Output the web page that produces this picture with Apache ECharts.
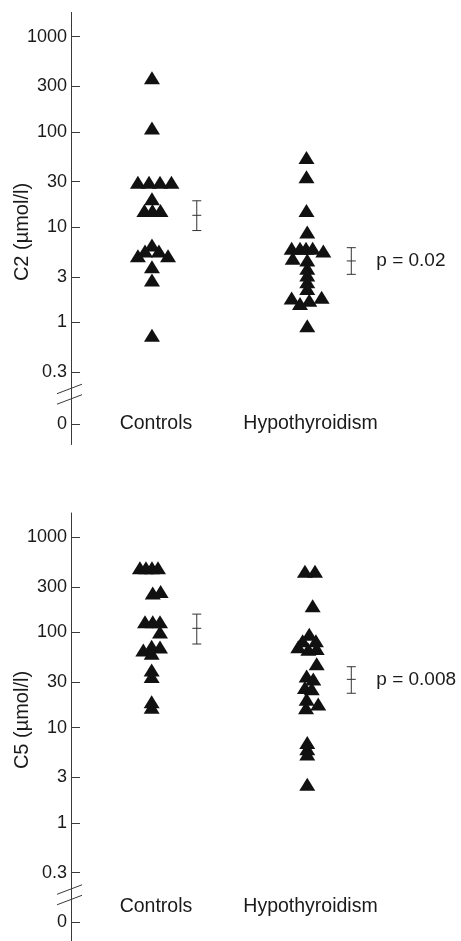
<!DOCTYPE html>
<html><head><meta charset="utf-8">
<script src="https://cdn.jsdelivr.net/npm/echarts@6/dist/echarts.min.js"></script>
<style>html,body{margin:0;padding:0;background:#fff}#c{width:461px;height:941px}</style>
</head><body><div id="c"></div>
<script>
// ---------- data ----------
const categories = ['Controls', 'Hypothyroidism'];
const tickValues = [0.3, 1, 3, 10, 30, 100, 300, 1000];
const zeroTick = [0];
const yNames = ['C2 (µmol/l)', 'C5 (µmol/l)'];
const pTexts = ['p = 0.02', 'p = 0.008'];

// C2 panel
const c2Controls = [370, 110, 29.6, 29.6, 29.6, 29.6, 19.9, 14.9, 14.9, 14.9, 6.5, 5.6, 5.6, 5.0, 5.0, 3.84, 2.78, 0.73];
const c2ControlsJitter = [0, 0, -0.091, -0.019, 0.052, 0.126, 0, -0.049, 0.003, 0.055, 0, -0.045, 0.045, -0.091, 0.104, 0, 0, 0];
const c2Hypo = [54, 33.8, 14.9, 8.9, 6.0, 6.0, 6.0, 6.0, 5.6, 4.7, 4.5, 3.69, 3.14, 2.67, 2.27, 1.80, 1.58, 1.70, 1.83, 0.92];
const c2HypoJitter = [0, 0, 0, 0.005, -0.096, -0.042, -0.003, 0.04, 0.109, -0.089, 0.005, 0.005, 0.005, 0.005, 0.005, -0.096, -0.042, 0.018, 0.098, 0.005];
const c2ErrLow = [9.2, 3.19];
const c2ErrMean = [13.3, 4.41];
const c2ErrHigh = [18.9, 6.08];

// C5 panel
const c5Controls = [480, 480, 480, 480, 260, 270, 130, 130, 130, 101, 65.5, 71.6, 70.4, 60.4, 40.4, 34.4, 18.7, 16.4];
const c5ControlsJitter = [-0.078, -0.039, 0, 0.039, 0.005, 0.056, -0.045, 0.005, 0.052, 0.052, -0.056, -0.002, 0.052, -0.002, -0.002, -0.002, -0.002, -0.002];
const c5Hypo = [440, 440, 191, 96, 82, 82, 71, 66.8, 68, 47, 34.9, 32.4, 26.4, 25.6, 19.9, 17.7, 16.2, 7.0, 6.0, 5.3, 2.55];
const c5HypoJitter = [-0.01, 0.055, 0.04, 0.018, -0.025, 0.061, -0.053, 0.012, 0.066, 0.066, 0.001, 0.044, -0.01, 0.034, 0.001, 0.076, -0.003, 0.005, 0.005, 0.005, 0.005];
const c5ErrLow = [75.7, 23];
const c5ErrMean = [110.7, 32.2];
const c5ErrHigh = [156, 43.7];

// ---------- layout ----------
const FONT = '"Liberation Sans", Arial, sans-serif';
const AX = '#3a3a3a';
const TXT = '#1a1a1a';
const xMin = 0.476, xMax = 3.0;
const errShift = 0.29;
const panels = [
  { logTop: 12.4, logH: 380.8, zeroTop: 393.2, zeroH: 51.3, labelOffset: -20.5, nameY: 232 },
  { logTop: 513, logH: 380.8, zeroTop: 893.8, zeroH: 53.7, labelOffset: -34.2, nameY: 720 }
];

function pts(vals, jit, cat) {
  return vals.map((v, i) => [cat + jit[i], v]);
}
function errData(lo, mid, hi) {
  return lo.map((l, i) => [i + 1 + errShift, l, mid[i], hi[i]]);
}
function makeErrRender(pText) {
  return function (params, api) {
    const x = api.value(0);
    const pLo = api.coord([x, api.value(1)]);
    const pMid = api.coord([x, api.value(2)]);
    const pHi = api.coord([x, api.value(3)]);
    const hw = 4.5;
    const st = { stroke: '#333', lineWidth: 1 };
    const ch = [
      { type: 'line', shape: { x1: pLo[0], y1: pLo[1], x2: pHi[0], y2: pHi[1] }, style: st },
      { type: 'line', shape: { x1: pLo[0] - hw, y1: pLo[1], x2: pLo[0] + hw, y2: pLo[1] }, style: st },
      { type: 'line', shape: { x1: pMid[0] - hw, y1: pMid[1], x2: pMid[0] + hw, y2: pMid[1] }, style: st },
      { type: 'line', shape: { x1: pHi[0] - hw, y1: pHi[1], x2: pHi[0] + hw, y2: pHi[1] }, style: st }
    ];
    if (params.dataIndex === 1) {
      ch.push({
        type: 'text', x: pMid[0] + 25, y: pMid[1],
        style: { text: pText, font: '19px ' + FONT, fill: TXT, align: 'left', verticalAlign: 'middle' }
      });
    }
    return { type: 'group', children: ch };
  };
}

const grid = [], xAxis = [], yAxis = [], series = [], graphic = [];
const panelData = [
  { ctrl: pts(c2Controls, c2ControlsJitter, 1), hypo: pts(c2Hypo, c2HypoJitter, 2), err: errData(c2ErrLow, c2ErrMean, c2ErrHigh) },
  { ctrl: pts(c5Controls, c5ControlsJitter, 1), hypo: pts(c5Hypo, c5HypoJitter, 2), err: errData(c5ErrLow, c5ErrMean, c5ErrHigh) }
];

panels.forEach((p, k) => {
  const gA = grid.length, gB = gA + 1;
  grid.push({ left: 71, width: 390, top: p.logTop, height: p.logH });
  grid.push({ left: 71, width: 390, top: p.zeroTop, height: p.zeroH });
  xAxis.push({ gridIndex: gA, type: 'value', min: xMin, max: xMax, show: false });
  xAxis.push({
    gridIndex: gB, type: 'value', min: xMin, max: xMax, position: 'bottom', offset: p.labelOffset,
    axisLine: { show: false }, axisTick: { show: false }, splitLine: { show: false },
    axisLabel: {
      customValues: [1, 2], formatter: v => categories[Math.round(v) - 1],
      fontSize: 19.5, fontFamily: FONT, color: TXT, margin: 0, verticalAlign: 'middle', padding: [0, 0, 0, 8]
    }
  });
  yAxis.push({
    gridIndex: gA, type: 'log', logBase: 10, min: 0.18, max: 1800,
    axisLine: { show: true, lineStyle: { color: AX, width: 1 } },
    axisTick: { show: true, inside: true, length: 9, customValues: tickValues, lineStyle: { color: AX, width: 1 } },
    minorTick: { show: false }, splitLine: { show: false },
    axisLabel: { customValues: tickValues, formatter: v => String(+(+v).toPrecision(6)), margin: 4, fontSize: 18, fontFamily: FONT, color: TXT }
  });
  yAxis.push({
    gridIndex: gB, type: 'value', min: -1, max: 1.5,
    axisLine: { show: true, onZero: false, lineStyle: { color: AX, width: 1 } },
    axisTick: { show: true, inside: true, length: 9, customValues: zeroTick, lineStyle: { color: AX, width: 1 } },
    splitLine: { show: false },
    axisLabel: { customValues: zeroTick, margin: 4, fontSize: 18, fontFamily: FONT, color: TXT }
  });
  const d = panelData[k];
  [d.ctrl, d.hypo].forEach(data => series.push({
    type: 'scatter', xAxisIndex: gA, yAxisIndex: gA, data,
    symbol: 'triangle', symbolSize: [16, 13], itemStyle: { color: '#111', opacity: 1 },
    emphasis: { disabled: true }, silent: true
  }));
  series.push({
    type: 'custom', xAxisIndex: gA, yAxisIndex: gA, data: d.err, renderItem: makeErrRender(pTexts[k]),
    encode: { x: 0, y: [1, 2, 3] }, silent: true
  });
  const b = p.zeroTop;
  const ls = { stroke: AX, lineWidth: 1 };
  graphic.push({ type: 'line', shape: { x1: 57, y1: b + 0.5, x2: 82, y2: b - 9 }, style: ls, z: 100 });
  graphic.push({ type: 'line', shape: { x1: 57, y1: b + 11, x2: 82, y2: b + 1.5 }, style: ls, z: 100 });
  graphic.push({
    type: 'text', x: 22.5, y: p.nameY, rotation: Math.PI / 2,
    style: { text: yNames[k], font: '20px ' + FONT, fill: TXT, align: 'center', verticalAlign: 'middle', textAlign: 'center', textVerticalAlign: 'middle' }
  });
});

const chart = echarts.init(document.getElementById('c'), null, { renderer: 'canvas' });
chart.setOption({ animation: false, grid, xAxis, yAxis, series, graphic });
</script></body></html>
